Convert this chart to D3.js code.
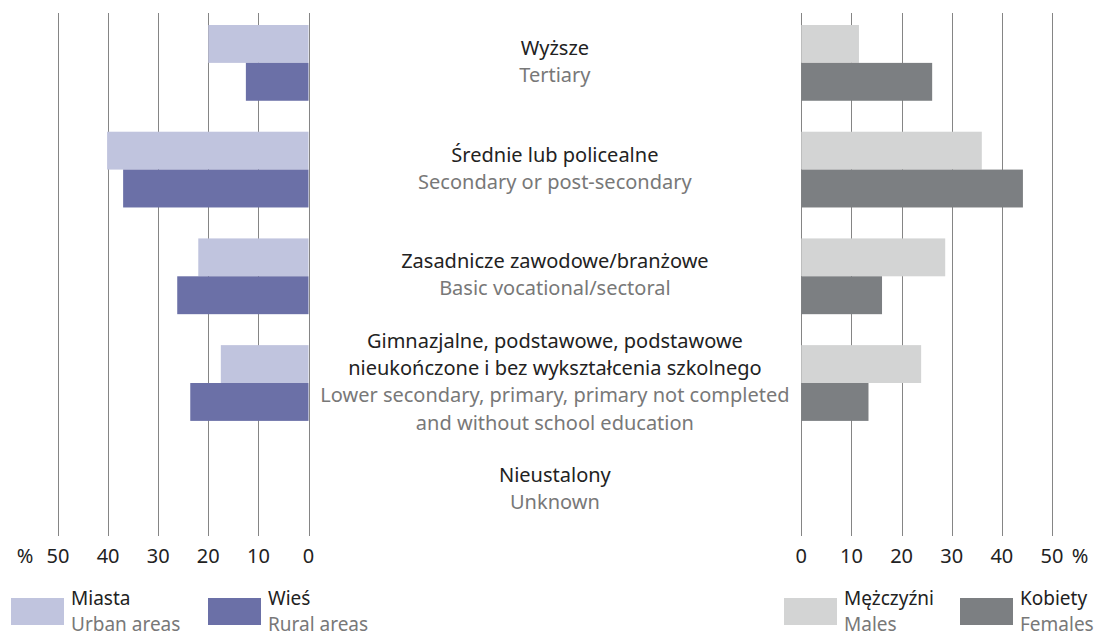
<!DOCTYPE html>
<html>
<head>
<meta charset="utf-8">
<script src="https://cdn.jsdelivr.net/npm/d3@7"></script>
<style>
  body { margin: 0; background: #fff; }
  text { font-family: "Noto Sans", sans-serif; }
</style>
</head>
<body>
<svg id="chart"></svg>
<script>
// categories: Polish label lines, English label lines
const categoriesPl = [
  ["Wyższe"],
  ["Średnie lub policealne"],
  ["Zasadnicze zawodowe/branżowe"],
  ["Gimnazjalne, podstawowe, podstawowe", "nieukończone i bez wykształcenia szkolnego"],
  ["Nieustalony"]
];
const categoriesEn = [
  ["Tertiary"],
  ["Secondary or post-secondary"],
  ["Basic vocational/sectoral"],
  ["Lower secondary, primary, primary not completed", "and without school education"],
  ["Unknown"]
];

// values in %
const urban   = [20.0, 40.2, 22.0, 17.5, 0];
const rural   = [12.5, 37.0, 26.2, 23.6, 0];
const males   = [11.5, 36.0, 28.7, 23.9, 0];
const females = [26.1, 44.2, 16.1, 13.4, 0];

const ticks = [0, 10, 20, 30, 40, 50];

const width = 1098, height = 637;
const fontSize = "20px";
const colors = { urban: "#c0c4de", rural: "#6b70a7", males: "#d3d4d4", females: "#7c7f82" };

const svg = d3.select("#chart").attr("width", width).attr("height", height);

const xLeft = d3.scaleLinear().domain([0, 50]).range([308.5, 58]);
const xRight = d3.scaleLinear().domain([0, 50]).range([801.3, 1052]);

const idx = d3.range(categoriesPl.length);
const y = d3.scaleBand().domain(idx).range([25, 527.6]).paddingInner(0.29).paddingOuter(0);
const ySub = d3.scaleBand().domain([0, 1]).range([0, y.bandwidth()]);

// gridlines
const gridTop = 13, gridBottom = 536;
[xLeft, xRight].forEach(x => {
  svg.append("g").selectAll("line")
    .data(ticks)
    .join("line")
    .attr("x1", d => Math.round(x(d)) + 0.5)
    .attr("x2", d => Math.round(x(d)) + 0.5)
    .attr("y1", gridTop)
    .attr("y2", gridBottom)
    .attr("stroke", "#858585")
    .attr("stroke-width", 1);
});

// bars
function drawBars(x, series, color, sub, left) {
  svg.append("g").selectAll("rect")
    .data(series.map((v, i) => ({ v, i })).filter(d => d.v > 0))
    .join("rect")
    .attr("x", d => left ? x(d.v) : x(0))
    .attr("width", d => Math.abs(x(d.v) - x(0)))
    .attr("y", d => y(d.i) + ySub(sub))
    .attr("height", ySub.bandwidth())
    .attr("fill", color);
}
drawBars(xLeft, urban, colors.urban, 0, true);
drawBars(xLeft, rural, colors.rural, 1, true);
drawBars(xRight, males, colors.males, 0, false);
drawBars(xRight, females, colors.females, 1, false);

// category labels
const cx = (xLeft(0) + xRight(0)) / 2;
const lineH = 27.5, gap = 27;
const labels = svg.append("g").attr("text-anchor", "middle").style("font-size", fontSize);
idx.forEach(i => {
  const pl = categoriesPl[i], en = categoriesEn[i];
  const lines = [];
  let yy = 0;
  pl.forEach((t, j) => { if (j) yy += lineH; lines.push({ t, c: "#222", yy }); });
  yy += gap;
  en.forEach((t, j) => { if (j) yy += lineH; lines.push({ t, c: "#787878", yy }); });
  const mid = y(i) + y.bandwidth() / 2 + 5.5;
  const first = mid - yy / 2;
  labels.selectAll(null)
    .data(lines)
    .join("text")
    .attr("x", cx)
    .attr("y", d => first + d.yy)
    .attr("fill", d => d.c)
    .text(d => d.t);
});

// axis labels
const axisY = 563;
const axes = svg.append("g").style("font-size", fontSize).attr("fill", "#222").attr("text-anchor", "middle");
axes.selectAll(".tl").data(ticks).join("text").attr("class", "tl")
  .attr("x", d => xLeft(d)).attr("y", axisY).text(d => d);
axes.selectAll(".tr").data(ticks).join("text").attr("class", "tr")
  .attr("x", d => xRight(d)).attr("y", axisY).text(d => d);
axes.append("text").attr("x", 25).attr("y", axisY).text("%");
axes.append("text").attr("x", 1080).attr("y", axisY).text("%");

// legend
const legend = [
  { pl: "Miasta", en: "Urban areas", color: colors.urban, x: 11 },
  { pl: "Wieś", en: "Rural areas", color: colors.rural, x: 208 },
  { pl: "Mężczyźni", en: "Males", color: colors.males, x: 784 },
  { pl: "Kobiety", en: "Females", color: colors.females, x: 960 }
];
const lg = svg.append("g").selectAll("g").data(legend).join("g")
  .attr("transform", d => `translate(${d.x},598)`);
lg.append("rect").attr("width", 53).attr("height", 27).attr("fill", d => d.color);
lg.append("text").attr("x", 60).attr("y", 7).style("font-size", "19px")
  .attr("fill", "#222").text(d => d.pl);
lg.append("text").attr("x", 60).attr("y", 33).style("font-size", "19px")
  .attr("fill", "#787878").text(d => d.en);
</script>
</body>
</html>
